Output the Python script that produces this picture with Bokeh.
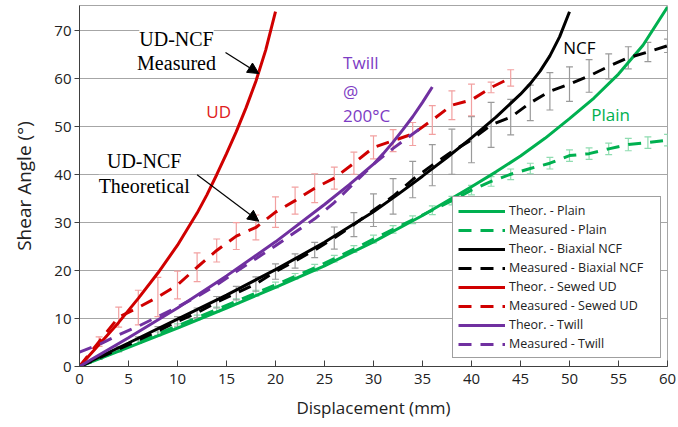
from bokeh.plotting import figure
from bokeh.models import Range1d, Label, Arrow, NormalHead, Legend, LegendItem, FixedTicker
from bokeh.embed import file_html
from bokeh.resources import INLINE

# ---------------- data ----------------
x_th_plain = [0, 5, 10, 15, 20, 25, 30, 35, 40, 42.5, 45, 47.5, 50, 52.5, 55, 57.5, 60]
y_th_plain = [0, 4, 8, 12.2, 16.5, 21, 26, 31.5, 37.5, 40.6, 43.9, 47.6, 51.7, 56, 61, 67, 75]

x_th_ncf = [0, 5, 10, 15, 20, 25, 30, 32.5, 35, 37.5, 40, 42.5, 45, 46, 47, 48, 49, 50]
y_th_ncf = [0, 4.9, 9.9, 14.9, 20.2, 25.9, 32.3, 35.9, 39.7, 43.6, 47.7, 52, 56.8, 59,
            61.6, 64.8, 68.8, 74]

x_th_ud = [0, 2, 4, 6, 8, 10, 12, 13, 14, 15, 16, 17, 18, 19, 20]
y_th_ud = [0, 4.6, 9.2, 14.2, 19.5, 25.3, 32, 35.8, 40, 44.4, 49, 54, 59.5, 66, 74]

x_th_twill = [0, 5, 10, 15, 20, 25, 27.5, 30, 31, 32, 33, 34, 35, 36]
y_th_twill = [0, 6, 12.2, 18.9, 26, 33.8, 37.9, 42.2, 44.4, 46.8, 49.4, 52.1, 55.1, 58.3]

x_meas_plain = [0, 2, 4, 6, 8, 10, 12, 14, 16, 18, 20, 22, 24, 26, 28, 30,
                32, 34, 36, 38, 40, 42, 44, 46, 48, 50, 52, 54, 56, 58, 60]
y_meas_plain = [0, 1.7, 3.4, 5.1, 6.8, 8.5, 10.2, 11.9, 13.6, 15.3, 17, 18.8,
                20.6, 22.5, 24.5, 26.6, 28.6, 30.6, 32.6, 34.6, 36.8, 38.6,
                40.1, 41.3, 42.4, 44, 44.4, 45.4, 46.3, 46.7, 47.2]
err_meas_plain = [0, 0.2, 0.3, 0.3, 0.4, 0.4, 0.5, 0.5, 0.5, 0.6, 0.6, 0.6,
                  0.7, 0.7, 0.7, 0.8, 0.8, 0.8, 0.9, 0.9, 1.0, 1.0, 1.1, 1.1,
                  1.2, 1.2, 1.2, 1.2, 1.3, 1.2, 1.2]

x_meas_ncf = [0, 2, 4, 6, 8, 10, 12, 14, 16, 18, 20, 22, 24, 26, 28, 30,
              32, 34, 36, 38, 40, 42, 44, 46, 48, 50, 52, 54, 56, 58, 60]
y_meas_ncf = [0, 1.8, 3.6, 5.5, 7.4, 9.4, 11.2, 13.4, 15.3, 17.2, 19.8, 22,
              24.3, 26.8, 29.6, 32.6, 35.5, 39, 42, 44.8, 47.3, 50.4, 52, 55,
              57.4, 58.9, 60.6, 62.6, 64.4, 65.6, 66.9]
err_meas_ncf = [0, 0.3, 0.5, 0.7, 0.9, 1, 1, 1.2, 1.4, 1.5, 1.6, 1.5, 1.6,
                2.3, 2.5, 3.4, 3.7, 3.8, 4.3, 4.7, 4.8, 4.7, 3.7, 3.7, 3.9,
                3.6, 3.4, 2.6, 2.3, 2, 1.4]

x_meas_ud = [0, 2, 4, 6, 8, 10, 12, 14, 16, 18, 20, 22, 24, 26, 28, 30, 32,
             34, 36, 38, 40, 42, 44]
y_meas_ud = [0, 5.2, 10.3, 12.3, 14.5, 17, 20.7, 24.2, 27.2, 29, 32.2, 34.6,
             37.2, 39.3, 42.4, 45.7, 47.1, 48.5, 51.4, 54.5, 55.6, 58.2, 60.2]
err_meas_ud = [0, 1, 2.1, 3.6, 4.1, 2.9, 3, 2.4, 2.8, 2.6, 3.2, 2.8, 3, 2.3,
               2.3, 2.4, 2.3, 2.4, 3, 3, 3.3, 1.1, 1.7]

x_meas_twill = [0, 2, 4, 6, 8, 10, 12, 14, 16, 18, 20, 22, 24, 26, 28, 30,
                32, 34, 35]
y_meas_twill = [3, 4.6, 6.6, 8.4, 10.4, 12.4, 14.6, 17, 19.8, 22.5, 25.2, 28,
                30.8, 34.2, 38.2, 42.2, 45.5, 48.5, 50]

legend_labels = ["Theor. - Plain", "Measured - Plain", "Theor. - Biaxial NCF",
                 "Measured - Biaxial NCF", "Theor. - Sewed UD",
                 "Measured - Sewed UD", "Theor. - Twill", "Measured - Twill"]

x_ticks = [0, 5, 10, 15, 20, 25, 30, 35, 40, 45, 50, 55, 60]
y_ticks = [0, 10, 20, 30, 40, 50, 60, 70]

# ---------------- styles ----------------
GREEN = "#00b050"
BLACK = "#000000"
RED = "#d00000"
PURPLE = "#7030a0"
GREEN_ERR = "#8fdcb0"
BLACK_ERR = "#9a9a9a"
RED_ERR = "#f2a0a0"
FONT = "Open Sans"
SERIF = "Liberation Serif"
LW = 3
DASH = "13 9"

p = figure(width=678, height=427, output_backend="svg", toolbar_location=None,
           x_range=Range1d(0, 60), y_range=Range1d(0, 75.3),
           min_border_left=79, min_border_right=11, min_border_top=5,
           min_border_bottom=61)
p.background_fill_color = "white"
p.border_fill_color = "white"
p.outline_line_color = "#a6a6a6"
p.outline_line_width = 1

p.xgrid.grid_line_color = None
p.ygrid.grid_line_color = "#a6a6a6"
p.ygrid.grid_line_width = 1
p.ygrid.ticker = FixedTicker(ticks=y_ticks)

p.xaxis.ticker = FixedTicker(ticks=x_ticks)
p.yaxis.ticker = FixedTicker(ticks=y_ticks)
for ax in (p.xaxis, p.yaxis):
    ax.axis_line_color = "#404040"
    ax.major_tick_line_color = "#404040"
    ax.minor_tick_line_color = None
    ax.major_label_text_font = FONT
    ax.major_label_text_font_size = "15px"
    ax.major_label_text_color = "#222222"
    ax.axis_label_text_font = FONT
    ax.axis_label_text_font_style = "normal"
    ax.axis_label_text_color = "#222222"
p.xaxis.major_tick_in = 6
p.xaxis.major_tick_out = 0
p.xaxis.major_label_standoff = 7
p.yaxis.major_tick_in = 0
p.yaxis.major_tick_out = 5
p.yaxis.major_label_standoff = 3
p.xaxis.axis_label = "Displacement (mm)"
p.yaxis.axis_label = "Shear Angle (°)"
p.xaxis.axis_label_text_font_size = "17px"
p.yaxis.axis_label_text_font_size = "19px"
p.xaxis.axis_label_standoff = 9
p.yaxis.axis_label_standoff = 14


def error_bars(xs, ys, es, color, cap=0.35):
    lo = [y - e for y, e in zip(ys, es)]
    hi = [y + e for y, e in zip(ys, es)]
    p.segment(x0=xs, y0=lo, x1=xs, y1=hi, line_color=color, line_width=1.2)
    xl = [x - cap for x in xs]
    xr = [x + cap for x in xs]
    p.segment(x0=xl, y0=hi, x1=xr, y1=hi, line_color=color, line_width=1.2)
    p.segment(x0=xl, y0=lo, x1=xr, y1=lo, line_color=color, line_width=1.2)


error_bars(x_meas_plain[1:], y_meas_plain[1:], err_meas_plain[1:], GREEN_ERR)
error_bars(x_meas_ncf[1:], y_meas_ncf[1:], err_meas_ncf[1:], BLACK_ERR)
error_bars(x_meas_ud[1:], y_meas_ud[1:], err_meas_ud[1:], RED_ERR)

r1 = p.line(x_th_plain, y_th_plain, line_color=GREEN, line_width=LW)
r2 = p.line(x_meas_plain, y_meas_plain, line_color=GREEN, line_width=LW, line_dash=DASH)
r3 = p.line(x_th_ncf, y_th_ncf, line_color=BLACK, line_width=LW)
r4 = p.line(x_meas_ncf, y_meas_ncf, line_color=BLACK, line_width=LW, line_dash=DASH)
r5 = p.line(x_th_ud, y_th_ud, line_color=RED, line_width=LW)
r6 = p.line(x_meas_ud, y_meas_ud, line_color=RED, line_width=LW, line_dash=DASH)
r7 = p.line(x_th_twill, y_th_twill, line_color=PURPLE, line_width=LW)
r8 = p.line(x_meas_twill, y_meas_twill, line_color=PURPLE, line_width=LW, line_dash=DASH)

items = [LegendItem(label=lab, renderers=[r])
         for lab, r in zip(legend_labels, [r1, r2, r3, r4, r5, r6, r7, r8])]
legend = Legend(items=items, location=(373, 8), padding=5, spacing=2,
                glyph_width=47, glyph_height=16, label_height=16,
                label_width=146, label_standoff=4,
                label_text_font=FONT, label_text_font_size="12.5px",
                label_text_color="#222222",
                border_line_color="#404040", border_line_width=1,
                background_fill_color="white", background_fill_alpha=1)
p.add_layout(legend, "center")

# ---------------- annotations ----------------
def lab(x, y, text, color, font=FONT, size="17px", align="center", bg=None):
    kw = dict(x=x, y=y, text=text, text_color=color, text_font=font,
              text_font_size=size, text_align=align, text_baseline="middle")
    if bg:
        kw.update(background_fill_color=bg, background_fill_alpha=1.0)
    p.add_layout(Label(**kw))


lab(14.2, 53.2, "UD", "#e02020")
lab(51.0, 66.5, "NCF", BLACK)
lab(54.2, 52.5, "Plain", GREEN)
lab(26.9, 63.4, "Twill", "#7d3cc4", align="left")
lab(26.9, 57.3, "@", "#7d3cc4", align="left")
lab(26.9, 52.3, "200°C", "#7d3cc4", align="left")

lab(9.9, 68.4, "UD-NCF", BLACK, font=SERIF, size="20px", bg="white")
lab(9.9, 63.4, "Measured", BLACK, font=SERIF, size="20px", bg="white")
lab(6.6, 42.9, "UD-NCF", BLACK, font=SERIF, size="20px", bg="white")
lab(6.6, 37.7, "Theoretical", BLACK, font=SERIF, size="20px", bg="white")

p.add_layout(Arrow(x_start=14.9, y_start=65.5, x_end=18.3, y_end=61.1,
                   line_color=BLACK, line_width=1.2,
                   end=NormalHead(size=11, fill_color=BLACK, line_color=BLACK)))
p.add_layout(Arrow(x_start=12.0, y_start=40.0, x_end=18.3, y_end=30.3,
                   line_color=BLACK, line_width=1.2,
                   end=NormalHead(size=11, fill_color=BLACK, line_color=BLACK)))

open("out.html", "w").write(file_html(p, INLINE))
